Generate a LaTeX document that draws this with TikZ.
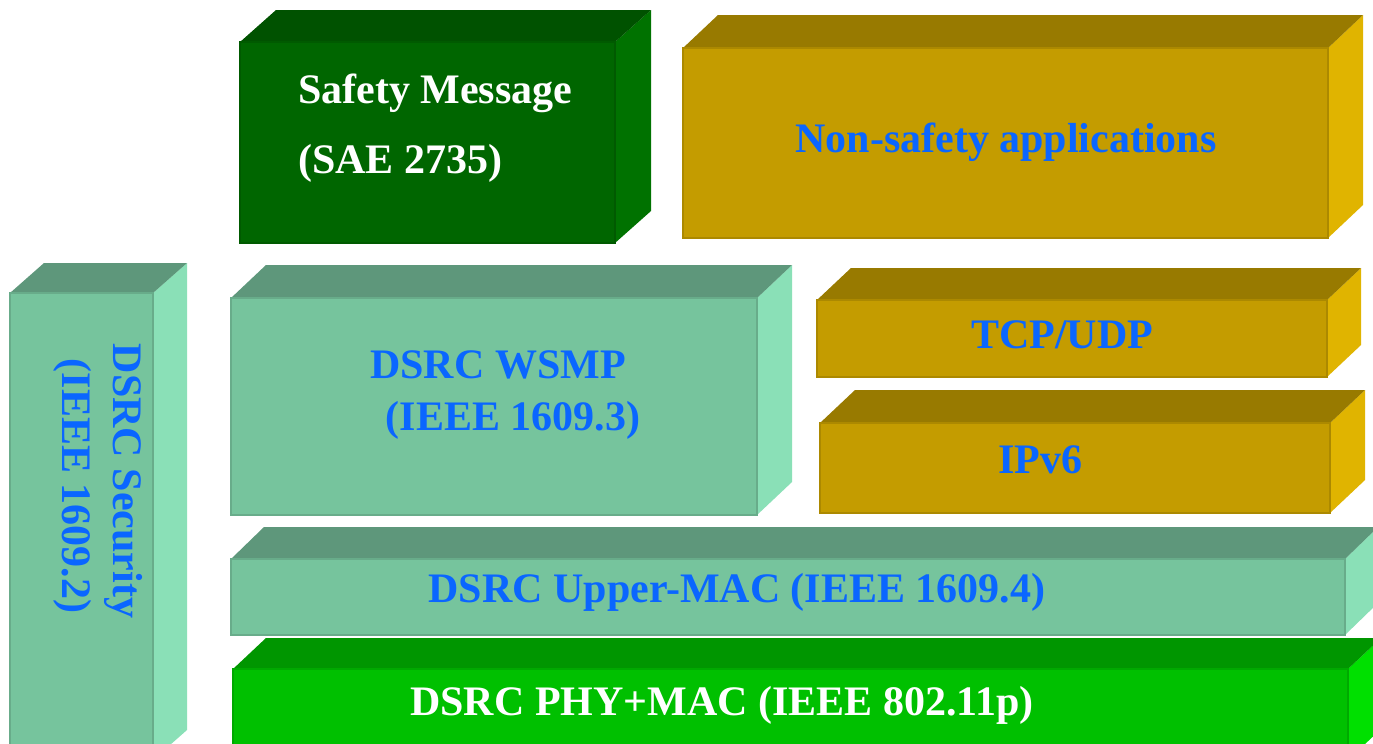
\documentclass[tikz,border=0pt]{standalone}
\usepackage{fontspec}
\setmainfont{Liberation Serif}
\definecolor{dkgfront}{HTML}{006600}
\definecolor{dkgtop}{HTML}{005200}
\definecolor{dkgside}{HTML}{007200}
\definecolor{goldfront}{HTML}{C49C00}
\definecolor{goldtop}{HTML}{987A00}
\definecolor{goldside}{HTML}{E0B400}
\definecolor{seafront}{HTML}{76C49D}
\definecolor{seatop}{HTML}{5E977B}
\definecolor{seaside}{HTML}{8AE0B7}
\definecolor{limefront}{HTML}{00C000}
\definecolor{limetop}{HTML}{009600}
\definecolor{limeside}{HTML}{00E000}
\definecolor{labelblue}{HTML}{0A66FF}
% 3-D layer block: front face (#1,#2)-(#3,#4), depth (#5,#6), colour family #7
\newcommand\layerbox[7]{%
  \fill[#7side] (#3,#2) -- (#3+#5,#2-#6) -- (#3+#5,#4-#6) -- (#3,#4) -- cycle;
  \fill[#7top] (#1,#2) -- (#1+#5,#2-#6) -- (#3+#5,#2-#6) -- (#3,#2) -- cycle;
  \fill[#7front, draw=#7front!88!black, line width=1.2pt] (#1,#2) rectangle (#3,#4);
}
\tikzset{
  lbl/.style={inner sep=0pt, font=\bfseries\fontsize{42}{50}\selectfont},
  bluelbl/.style={lbl, text=labelblue},
  whitelbl/.style={lbl, text=white}
}
\begin{document}
\begin{tikzpicture}[x=1pt, y=-1pt]
  \useasboundingbox (0,0) rectangle (1373,744);
  \clip (0,0) rectangle (1373,744);
  \fill[white] (0,0) rectangle (1373,744);

  % application layer
  \layerbox{240}{42}{615}{243}{36}{32}{dkg}
  \layerbox{683}{48}{1328}{238}{35}{33}{gold}
  % security plane
  \layerbox{10}{293}{153}{760}{34}{30}{sea}
  % network / transport
  \layerbox{231}{298}{757}{515}{35}{33}{sea}
  \layerbox{817}{300}{1327}{377}{34}{32}{gold}
  \layerbox{820}{423}{1330}{513}{35}{33}{gold}
  % MAC and PHY
  \layerbox{231}{559}{1345}{635}{33}{32}{sea}
  \layerbox{233}{669}{1348}{760}{33}{31}{lime}

  \node[whitelbl, anchor=base west] (safe1) at (298,103) {Safety Message};
  \node[whitelbl, anchor=base west] (safe2) at (298,173) {(SAE 2735)};
  \node[bluelbl, anchor=base] (nonsafe) at (1006,152) {Non-safety applications};
  \node[bluelbl, anchor=base] (wsmp1) at (498,378) {DSRC WSMP};
  \node[bluelbl, anchor=base] (wsmp2) at (513,430) {(IEEE 1609.3)};
  \node[bluelbl, anchor=base] (tcp) at (1062,348) {TCP/UDP};
  \node[bluelbl, anchor=base] (ipv6) at (1040,473) {IPv6};
  \node[bluelbl, anchor=base] (umac) at (737,602) {DSRC Upper-MAC (IEEE 1609.4)};
  \node[whitelbl, anchor=base] (phy) at (722,715) {DSRC PHY+MAC (IEEE 802.11p)};
  \node[bluelbl, anchor=base, rotate=-90] (sec1) at (113,481) {DSRC Security};
  \node[bluelbl, anchor=base, rotate=-90] (sec2) at (62,486) {(IEEE 1609.2)};
\end{tikzpicture}
\end{document}
